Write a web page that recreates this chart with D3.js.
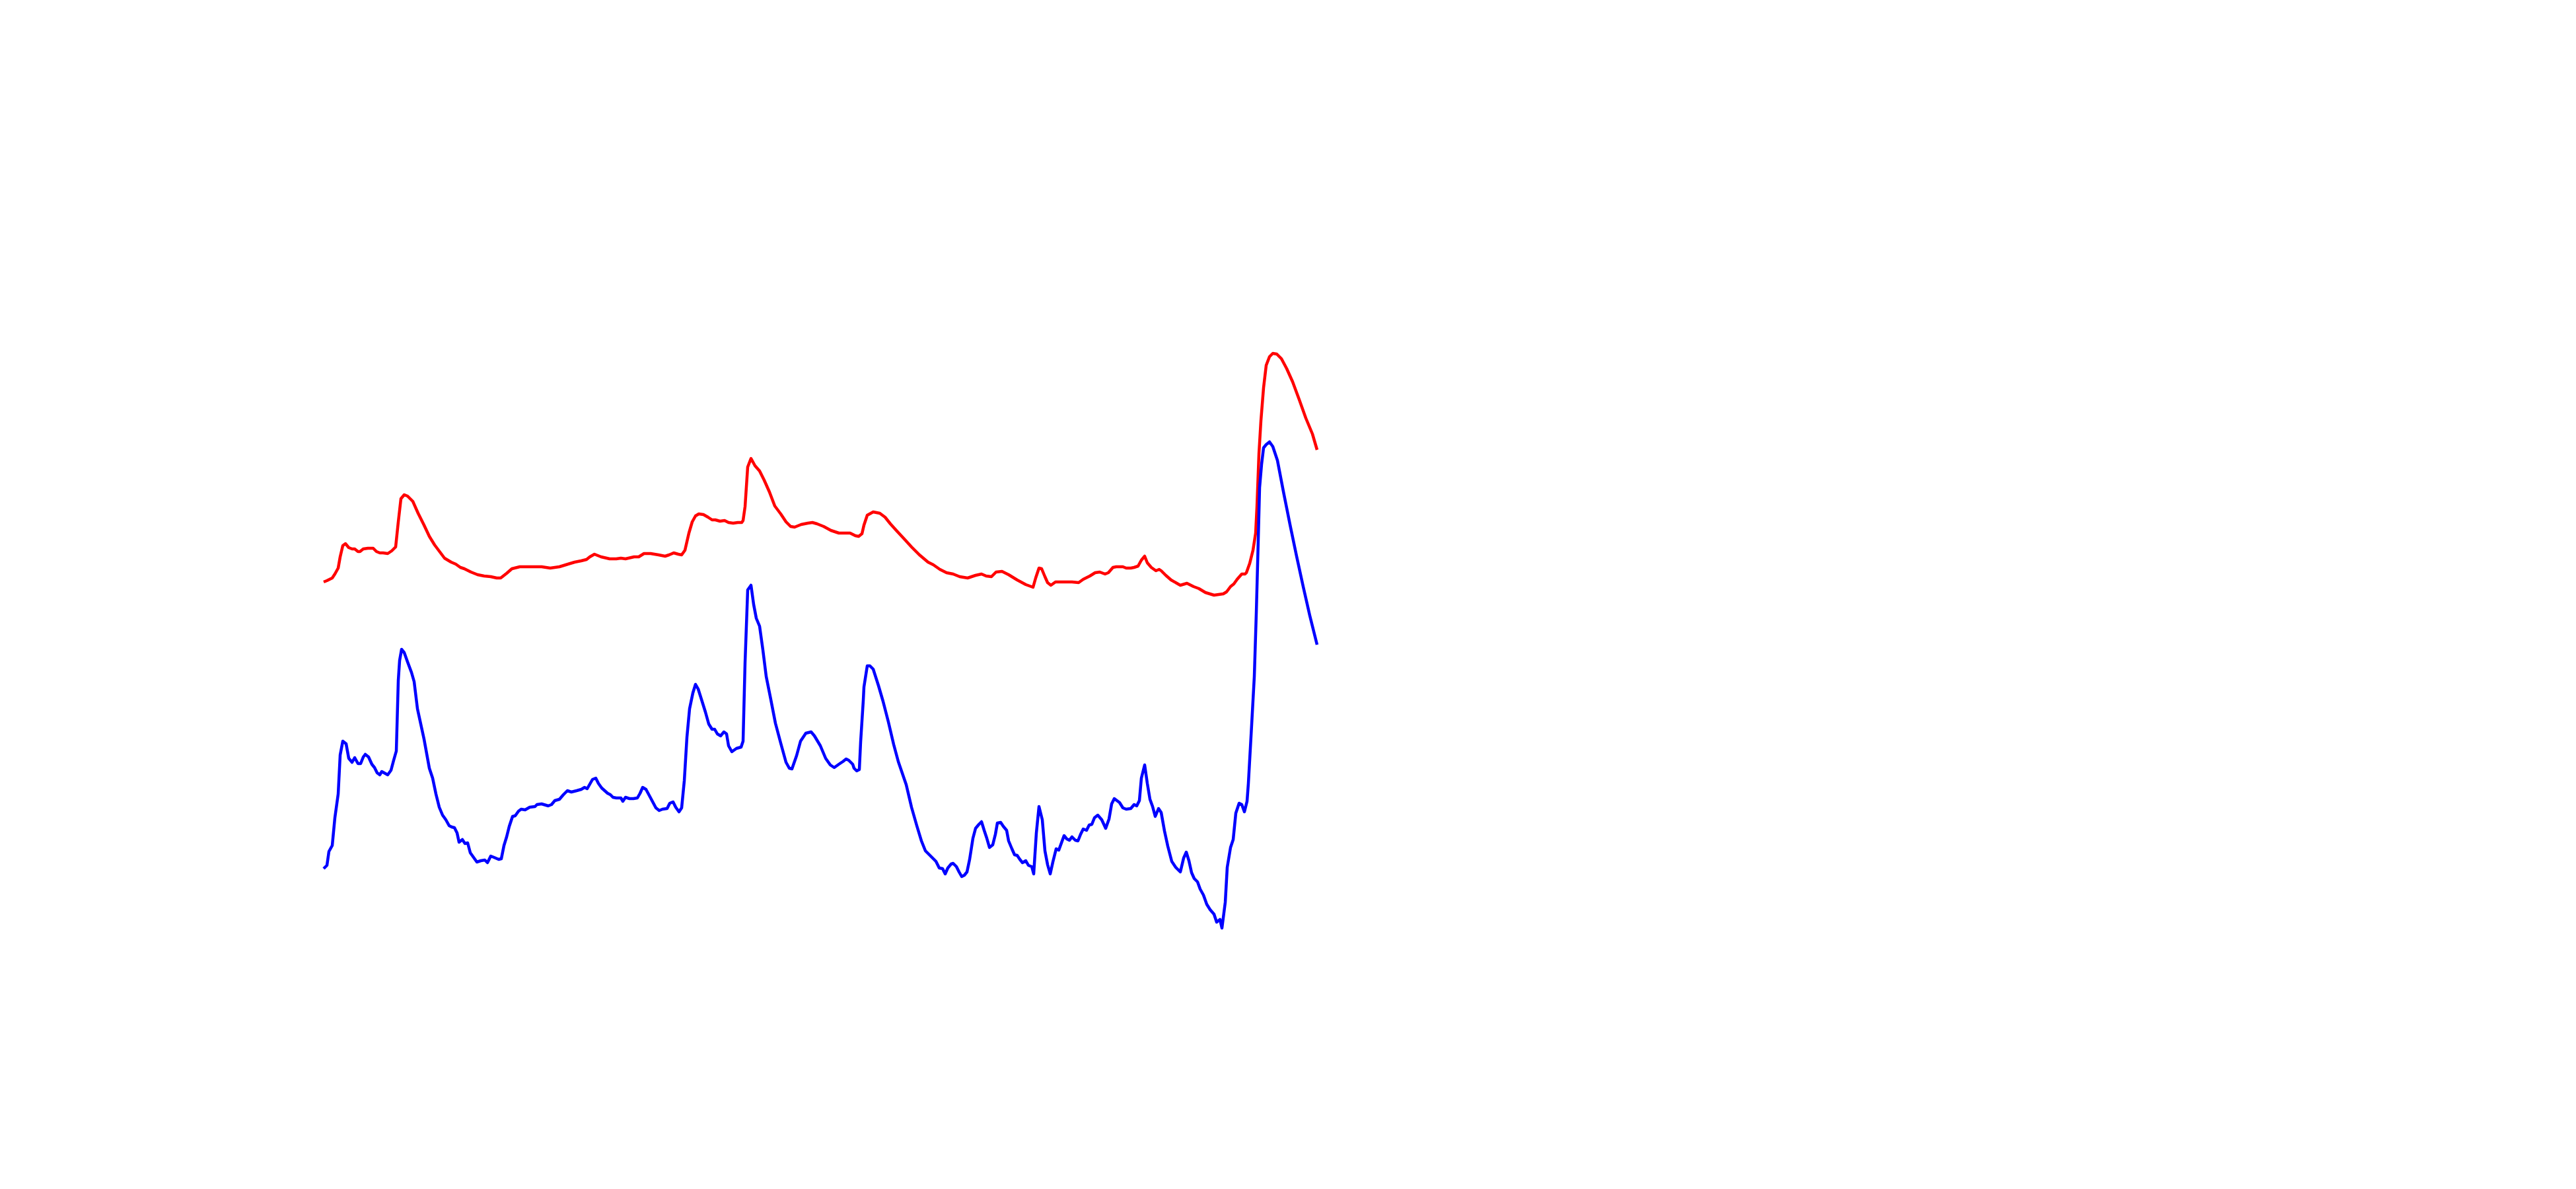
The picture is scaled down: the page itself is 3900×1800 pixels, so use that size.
<!DOCTYPE html>
<html><head><meta charset="utf-8">
<script src="https://cdn.jsdelivr.net/npm/d3@7"></script>
<style>html,body{margin:0;padding:0;background:#fff;}svg{display:block;}</style>
</head><body>
<script>
const redT=[0,0.5,1.3,1.7,2.2,2.5,2.9,3.3,3.8,4.3,4.7,5.2,5.5,6.0,6.7,7.5,8.0,8.5,9.0,9.7,10.3,10.9,11.3,11.7,12.2,12.7,13.5,14.3,15.2,16.0,16.8,17.7,18.3,19.3,20.0,20.7,21.3,22.3,23.3,24.3,25.3,26.2,26.8,27.7,28.5,29.7,31.7,33.0,34.3,35.7,37.0,38.0,39.0,39.8,40.3,41.0,42.0,43.3,44.3,45.0,45.7,47.0,47.7,48.5,49.5,50.7,51.7,52.3,53.0,53.7,54.2,54.7,55.3,55.8,56.3,56.8,57.5,58.2,58.8,59.3,60.0,60.7,61.3,62.0,62.7,63.3,63.5,63.8,64.2,64.7,65.3,66.0,66.7,67.5,68.3,69.2,70.0,70.7,71.3,72.3,73.3,74.0,74.7,75.7,76.8,78.0,79.7,80.5,81.0,81.5,81.8,82.3,83.2,84.2,85.0,85.8,86.7,88.0,89.0,90.2,91.5,92.3,93.3,94.3,95.3,96.3,97.5,98.7,99.6,100.3,101.1,101.8,102.7,103.7,105.0,106.3,107.4,107.8,108.3,108.7,109.2,109.6,110.1,110.8,112.0,113.3,114.3,115.0,116.0,116.8,117.5,118.3,118.8,119.5,120.0,121.0,121.5,122.2,122.7,123.3,123.8,124.3,124.7,125.3,126.0,126.5,126.8,127.5,128.3,129.7,130.7,131.7,132.5,133.5,134.8,136.2,136.7,137.3,137.8,138.3,139.0,139.5,139.7,140.2,140.7,141.1,141.3,141.6,141.9,142.3,142.7,143.2,143.7,144.3,145.0,145.8,146.7,147.7,148.7,149.7,150.4];
const redV=[76.9,77.1,77.5,78.1,79.0,80.7,82.4,82.7,82.1,81.9,81.9,81.5,81.5,81.9,82.0,82.0,81.5,81.3,81.3,81.2,81.6,82.2,86.0,89.5,90.1,89.9,89.1,87.3,85.5,83.8,82.5,81.3,80.5,79.9,79.6,79.1,78.9,78.4,78.0,77.8,77.7,77.5,77.5,78.2,78.9,79.2,79.2,79.2,79.0,79.2,79.6,79.9,80.1,80.3,80.7,81.1,80.7,80.4,80.4,80.5,80.4,80.7,80.7,81.2,81.2,81.0,80.8,81.0,81.3,81.1,81.0,81.7,84.3,86.0,86.9,87.2,87.1,86.7,86.3,86.3,86.1,86.2,85.9,85.8,85.9,85.9,86.2,88.3,94.3,95.6,94.5,93.7,92.3,90.5,88.4,87.2,86.0,85.3,85.2,85.6,85.8,85.9,85.7,85.3,84.7,84.3,84.3,83.9,83.8,84.2,85.5,87.0,87.5,87.3,86.7,85.7,84.7,83.3,82.2,81.0,79.9,79.5,78.8,78.3,78.1,77.7,77.5,77.9,78.1,77.8,77.7,78.4,78.5,78.0,77.2,76.5,76.1,77.5,79.0,78.9,77.7,76.8,76.4,76.9,76.9,76.9,76.8,77.3,77.8,78.3,78.4,78.1,78.3,79.1,79.2,79.2,79.0,79.0,79.1,79.3,80.2,80.8,79.8,79.1,78.6,78.8,78.6,77.9,77.2,76.4,76.7,76.2,75.9,75.3,74.9,75.1,75.4,76.2,76.6,77.3,78.1,78.1,78.3,79.7,81.7,84.3,88.3,96.3,101.3,106.3,109.7,111.0,111.5,111.4,110.7,109.2,107.2,104.5,101.7,99.3,96.9];
const blueT=[0,0.5,0.8,1.3,1.7,2.2,2.5,2.9,3.4,3.8,4.3,4.7,5.2,5.6,6.0,6.3,6.8,7.3,7.7,8.1,8.5,8.8,9.7,10.2,10.6,11.0,11.3,11.5,11.8,12.2,12.7,13.3,13.7,14.2,15.2,16.0,16.5,17.0,17.5,18.0,18.5,19.0,19.4,19.8,20.2,20.5,21.0,21.4,21.8,22.2,22.7,23.2,23.8,24.4,24.8,25.3,25.8,26.5,26.9,27.3,27.7,28.1,28.6,29.0,29.5,29.9,30.5,31.2,32.0,32.3,33.0,34.0,34.5,35.0,35.7,36.3,36.9,37.5,38.3,39.0,39.5,39.9,40.3,40.7,41.2,41.6,42.1,43.0,43.4,43.8,44.3,45.0,45.3,45.7,46.3,46.9,47.5,47.9,48.3,48.8,49.5,50.3,50.8,51.3,52.0,52.4,52.9,53.3,53.8,54.2,54.6,55.0,55.4,55.9,56.3,56.7,57.3,57.8,58.3,58.8,59.2,59.6,60.1,60.6,61.0,61.3,61.8,62.5,63.2,63.5,63.8,64.2,64.7,65.1,65.5,66.0,66.5,67.0,67.7,68.4,69.2,70.0,70.5,70.9,71.6,72.2,73.0,73.8,74.3,75.2,76.0,76.7,77.3,78.0,78.6,79.1,79.5,80.1,80.3,80.7,81.1,81.3,81.7,81.8,82.3,82.7,83.2,84.0,84.7,85.5,86.3,87.0,88.2,89.0,89.8,90.5,91.1,91.8,92.7,93.2,93.7,94.1,94.5,95.0,95.3,95.8,96.2,96.6,97.0,97.4,97.8,98.3,98.7,99.2,99.6,100.0,100.4,100.8,101.3,101.7,102.0,102.5,102.9,103.4,103.7,104.2,104.6,105.0,105.4,105.8,106.3,106.7,107.2,107.5,107.9,108.3,108.8,109.2,109.6,110.0,110.4,110.9,111.3,112.1,112.5,112.9,113.3,113.8,114.2,114.6,115.0,115.5,115.9,116.3,116.7,117.2,117.8,118.4,118.9,119.3,119.7,120.5,121.0,121.5,122.2,122.7,123.1,123.5,123.8,124.3,124.7,125.1,125.5,125.9,126.4,126.8,127.3,127.8,128.4,129.0,129.7,130.2,130.6,131.0,131.4,131.8,132.3,132.7,133.2,133.7,134.2,134.8,135.2,135.7,136.0,136.5,136.8,137.3,137.7,138.1,138.6,139.0,139.4,139.8,140.0,140.5,140.9,141.2,141.5,141.7,142.0,142.3,142.7,143.2,143.7,144.4,145.3,146.3,147.3,148.3,149.3,150.4];
const blueV=[33.5,34.0,36.1,37.0,41.2,44.8,50.7,52.8,52.4,50.2,49.6,50.3,49.4,49.4,50.4,50.8,50.4,49.3,48.8,48.0,47.7,48.2,47.7,48.4,49.9,51.3,62.0,65.0,66.7,66.2,64.8,63.2,61.8,57.7,53.1,48.7,47.2,44.8,42.8,41.6,40.9,40.0,39.8,39.7,38.9,37.5,37.9,37.3,37.4,35.9,35.2,34.5,34.7,34.8,34.4,35.4,35.2,34.9,35.0,37.0,38.3,39.9,41.4,41.5,42.2,42.5,42.4,42.8,42.9,43.2,43.3,43.0,43.2,43.8,44.0,44.7,45.3,45.1,45.3,45.5,45.8,45.6,46.3,47.0,47.2,46.4,45.7,44.9,44.7,44.3,44.2,44.2,43.7,44.3,44.1,44.1,44.2,44.9,45.8,45.5,44.2,42.7,42.3,42.5,42.6,43.4,43.6,42.8,42.1,42.7,46.8,53.4,57.7,60.1,61.4,60.7,58.8,57.2,55.4,54.6,54.6,53.9,53.6,54.2,53.9,52.1,51.2,51.7,51.9,52.8,64.7,75.7,76.4,73.5,71.4,70.2,66.6,62.6,59.1,55.5,52.5,49.6,48.7,48.6,50.6,52.8,54.0,54.2,53.6,52.1,50.2,49.2,48.8,49.3,49.7,50.1,49.9,49.3,48.7,48.3,48.5,52.7,59.0,61.0,64.2,64.2,63.7,61.2,58.8,55.7,52.3,49.7,46.2,42.8,40.0,37.7,36.2,35.5,34.6,33.6,33.5,32.7,33.6,34.2,34.3,33.8,33.0,32.3,32.5,33.0,34.9,38.1,39.6,40.2,40.6,39.3,38.1,36.7,37.1,38.7,40.4,40.5,39.9,39.3,37.7,36.5,35.6,35.5,34.9,34.4,34.7,34.0,33.8,32.7,38.9,42.9,40.9,36.2,34.1,32.7,34.5,36.5,36.3,38.5,38.0,37.8,38.3,37.8,37.7,38.7,39.5,39.3,40.1,40.2,41.2,41.6,40.9,39.6,41.0,43.3,44.1,43.5,42.7,42.5,42.6,43.2,43.0,43.8,47.2,49.2,46.4,44.0,42.9,41.4,42.6,42.0,39.2,36.9,34.6,33.7,33.0,35.1,36.0,34.7,32.9,32.0,31.5,30.4,29.5,28.1,27.3,26.6,25.4,25.8,24.5,28.4,33.7,36.7,37.9,41.9,43.4,43.2,42.1,43.7,46.4,55.3,62.6,72.2,83.4,91.2,94.7,97.2,97.7,98.1,97.4,95.3,90.6,85.6,80.8,76.2,71.8,67.4];

const W=3900,H=1800;
const svg=d3.select("body").append("svg").attr("width",W).attr("height",H);
svg.append("rect").attr("width",W).attr("height",H).attr("fill","#fff");
const x=d3.scaleLinear().domain([0,150]).range([490,1990]);
const y=d3.scaleLinear().domain([0,115]).range([1650,500]);
const line=d3.line().x(d=>x(d[0])).y(d=>y(d[1]));
const series=[{name:"red",t:redT,v:redV,color:"#ff0000"},{name:"blue",t:blueT,v:blueV,color:"#0000ff"}];
svg.selectAll("path.series").data(series).join("path")
  .attr("class","series")
  .attr("fill","none")
  .attr("stroke",d=>d.color)
  .attr("stroke-width",4.5)
  .attr("stroke-linejoin","round")
  .attr("d",d=>line(d3.zip(d.t,d.v)));
</script>
</body></html>
